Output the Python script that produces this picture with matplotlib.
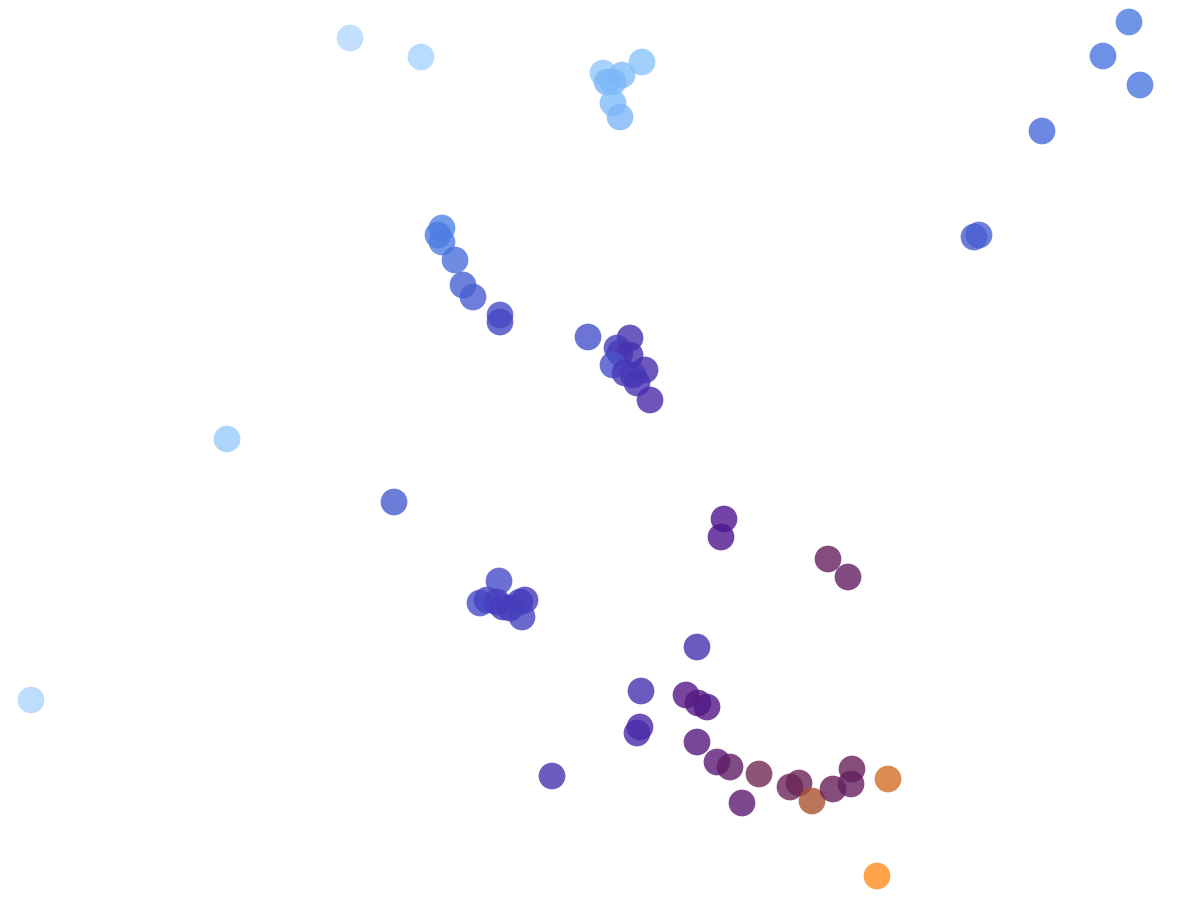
import numpy as np
import matplotlib
matplotlib.use('Agg')
import matplotlib.pyplot as plt
from matplotlib.colors import LinearSegmentedColormap

# point positions and the colour value of each point
x = [350, 421, 227, 31,
     642, 603, 622, 607, 613, 613, 620,
     442, 438, 442, 455, 463, 473, 500, 500,
     588, 630, 617, 620, 630, 613, 645, 633, 637, 650, 625,
     394,
     499, 480, 487, 497, 503, 520, 525, 522, 510,
     1129, 1103, 1140, 1042, 974, 979,
     697, 641, 686, 698, 707, 640, 637, 697,
     724, 721, 828, 848, 552,
     717, 730, 759, 742, 790, 799, 812, 833, 852, 851, 888, 877]
y = [38, 57, 439, 700,
     62, 73, 75, 82, 82, 103, 117,
     228, 235, 242, 260, 285, 297, 315, 322,
     337, 338, 348, 353, 355, 365, 370, 375, 383, 400, 373,
     502,
     581, 603, 600, 602, 607, 602, 600, 617, 608,
     22, 56, 85, 131, 237, 235,
     647, 691, 695, 703, 707, 727, 733, 742,
     519, 537, 559, 577, 776,
     762, 767, 774, 803, 787, 783, 801, 789, 769, 784, 779, 876]
value = [0.04, 0.07, 0.10, 0.06,
         0.14, 0.12, 0.16, 0.17, 0.17, 0.16, 0.17,
         0.28, 0.30, 0.29, 0.33, 0.36, 0.37, 0.42, 0.43,
         0.40, 0.50, 0.46, 0.47, 0.50, 0.40, 0.51, 0.47, 0.49, 0.52, 0.48,
         0.38,
         0.42, 0.42, 0.44, 0.45, 0.46, 0.46, 0.47, 0.44, 0.46,
         0.30, 0.31, 0.31, 0.34, 0.38, 0.37,
         0.50, 0.50, 0.62, 0.63, 0.62, 0.53, 0.52, 0.64,
         0.60, 0.60, 0.71, 0.70, 0.50,
         0.66, 0.69, 0.74, 0.67, 0.73, 0.73, 0.84, 0.72, 0.72, 0.71, 0.92, 1.0]

cmap = LinearSegmentedColormap.from_list('pts', [
    (0.00, '#c4e2ff'),
    (0.15, '#84c0fb'),
    (0.30, '#4a7ae2'),
    (0.45, '#4540c0'),
    (0.60, '#4e1590'),
    (0.72, '#67205a'),
    (0.85, '#a9552b'),
    (1.00, '#ff8b1c'),
])

fig = plt.figure(figsize=(12, 9), dpi=100)
ax = fig.add_axes([0, 0, 1, 1])
ax.scatter(x, y, c=value, cmap=cmap, vmin=0, vmax=1, s=370, alpha=0.8, linewidths=0)
ax.set_xlim(0, 1200)
ax.set_ylim(900, 0)
ax.axis('off')

fig.savefig('out.png', dpi=100, facecolor='white')
